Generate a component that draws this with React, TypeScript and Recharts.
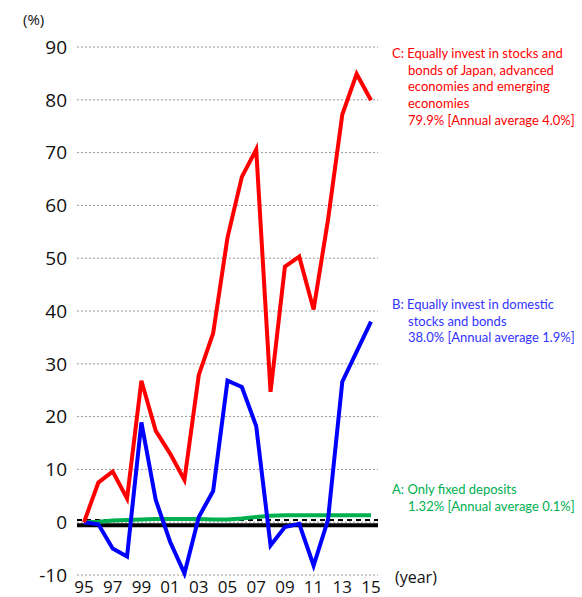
import { LineChart, Line, XAxis, YAxis, CartesianGrid, ReferenceLine } from "recharts";

const years = ["95", "96", "97", "98", "99", "00", "01", "02", "03", "04", "05", "06", "07", "08", "09", "10", "11", "12", "13", "14", "15"];
const fixedDeposits = [0, 0.1, 0.3, 0.4, 0.5, 0.6, 0.6, 0.6, 0.6, 0.5, 0.5, 0.7, 1.0, 1.2, 1.3, 1.3, 1.3, 1.3, 1.3, 1.3, 1.32];
const domestic = [0, -0.4, -5.0, -6.5, 18.9, 4.2, -3.7, -9.7, 1.0, 5.9, 26.8, 25.6, 18.2, -4.4, -0.9, -0.3, -8.2, 0.4, 26.6, 32.3, 38.0];
const global = [0, 7.5, 9.6, 4.5, 26.8, 17.3, 13.0, 8.0, 27.9, 35.8, 53.9, 65.4, 70.6, 24.7, 48.4, 50.3, 40.3, 57.2, 77.2, 84.9, 79.9];
const yTicks = [-10, 0, 10, 20, 30, 40, 50, 60, 70, 80, 90];

const data = years.map((y, i) => ({ year: y, a: fixedDeposits[i], b: domestic[i], c: global[i] }));

const noteFont = "Lato, 'Open Sans', sans-serif";

function Note({ top, color, lines }: { top: number; color: string; lines: string[] }) {
  return (
    <div style={{ position: "absolute", left: 392, top, color, fontFamily: noteFont, fontSize: 13, lineHeight: "16.7px", whiteSpace: "nowrap" }}>
      {lines.map((l, i) => (
        <div key={i} style={{ paddingLeft: i === 0 ? 0 : 16 }}>{l}</div>
      ))}
    </div>
  );
}

export default function App() {
  return (
    <div style={{ position: "absolute", left: 0, top: 0, width: 582, height: 597, background: "#fff", overflow: "hidden" }}>
      <LineChart width={582} height={597} data={data} margin={{ top: 47, right: 204, bottom: 0, left: 0 }}>
        <CartesianGrid vertical={false} stroke="#9a9a9a" strokeDasharray="2 2" />
        <XAxis
          dataKey="year"
          interval={1}
          padding={{ left: 7, right: 7 }}
          axisLine={false}
          tickLine={false}
          tickSize={0}
          tickMargin={6}
          height={22}
          tick={{ fill: "#111", fontSize: 17, fontFamily: "'Open Sans', sans-serif" }}
        />
        <YAxis
          domain={[-10, 90]}
          ticks={yTicks}
          interval={0}
          axisLine={false}
          tickLine={false}
          tickSize={0}
          tickMargin={10}
          width={77}
          tick={{ fill: "#111", fontSize: 19, fontFamily: "'Open Sans', sans-serif" }}
        />
        <ReferenceLine y={-0.6} stroke="#000" strokeWidth={4} />
        <ReferenceLine y={0.4} stroke="#000" strokeWidth={2} strokeDasharray="5 4" />
        <Line dataKey="a" stroke="#00b050" strokeWidth={4} dot={false} isAnimationActive={false} />
        <Line dataKey="b" stroke="#0000ff" strokeWidth={4} dot={false} isAnimationActive={false} />
        <Line dataKey="c" stroke="#ff0000" strokeWidth={4} dot={false} isAnimationActive={false} />
      </LineChart>
      <div style={{ position: "absolute", left: 23, top: 9, fontFamily: "'Open Sans', sans-serif", fontSize: 15, color: "#111" }}>(%)</div>
      <div style={{ position: "absolute", left: 395, top: 566, fontFamily: "'Open Sans', sans-serif", fontSize: 16, color: "#111" }}>(year)</div>
      <Note
        top={45}
        color="#ff0000"
        lines={["C: Equally invest in stocks and", "bonds of Japan, advanced", "economies and emerging", "economies", "79.9% [Annual average 4.0%]"]}
      />
      <Note
        top={296}
        color="#3333ff"
        lines={["B: Equally invest in domestic", "stocks and bonds", "38.0% [Annual average 1.9%]"]}
      />
      <Note
        top={481}
        color="#00b050"
        lines={["A: Only fixed deposits", "1.32%  [Annual average 0.1%]"]}
      />
    </div>
  );
}
